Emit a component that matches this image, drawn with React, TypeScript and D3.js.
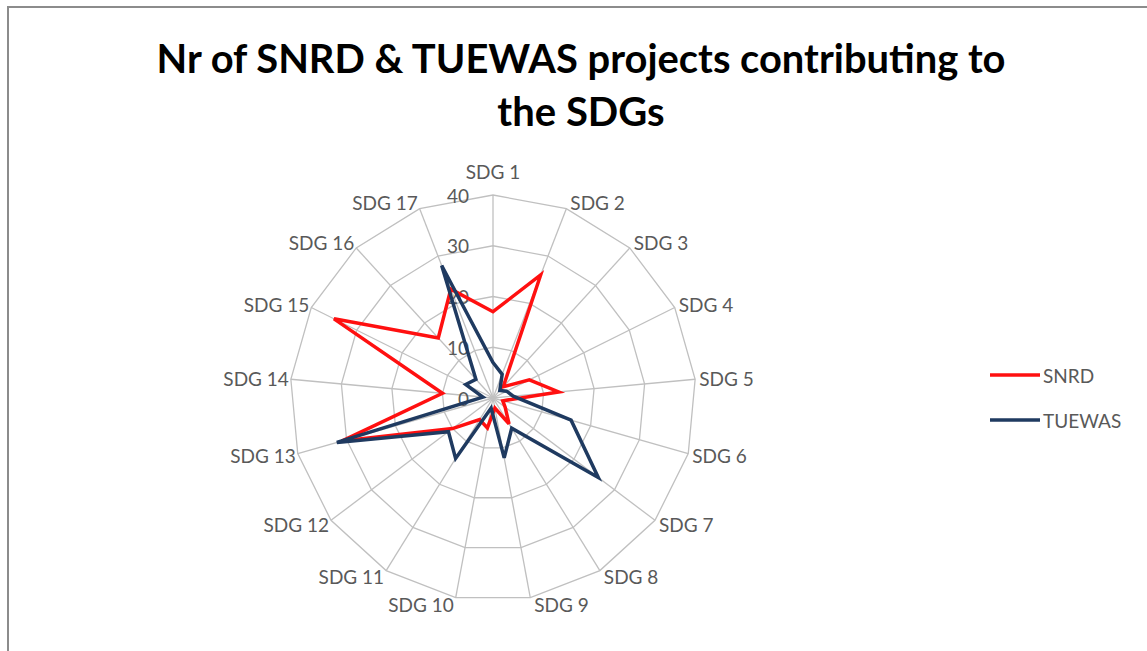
import React from 'react';
import * as d3 from 'd3';

const categories = [
  'SDG 1', 'SDG 2', 'SDG 3', 'SDG 4', 'SDG 5', 'SDG 6', 'SDG 7', 'SDG 8', 'SDG 9',
  'SDG 10', 'SDG 11', 'SDG 12', 'SDG 13', 'SDG 14', 'SDG 15', 'SDG 16', 'SDG 17',
];
const snrd = [17, 26, 3, 8, 13, 2, 3, 6, 2, 6, 5, 10, 31, 10, 35, 16, 23];
const tuewas = [7, 5, 2, 3, 4, 16, 26, 7, 12, 2, 14, 11, 32, 2, 6, 5, 28];
const ticks = [0, 10, 20, 30, 40];

const series = [
  { name: 'SNRD', values: snrd, color: '#ff1010' },
  { name: 'TUEWAS', values: tuewas, color: '#1f3a60' },
];

const W = 1147;
const H = 651;
const cx = 493;
const cy = 398;
const R = 203;
const font = 'Lato, "Liberation Sans", sans-serif';

const App = () => {
  const n = categories.length;
  const rScale = d3.scaleLinear().domain([0, 40]).range([0, R]);
  const angle = (i: number) => (i * 2 * Math.PI) / n;

  const radial = d3.lineRadial<number>()
    .angle((_, i) => angle(i))
    .radius(d => rScale(d))
    .curve(d3.curveLinearClosed);

  return (
    <svg width={W} height={H} style={{ position: 'absolute', left: 0, top: 0, background: '#fff' }}>
      <rect x={8} y={7} width={W} height={H} fill="#fff" stroke="#8c8c8c" strokeWidth={2} />

      <text x={581} y={73} textAnchor="middle" fontFamily={font} fontWeight="bold" fontSize={40}
        fill="#000" textLength={849} lengthAdjust="spacingAndGlyphs">
        Nr of SNRD &amp; TUEWAS projects contributing to
      </text>
      <text x={581} y={126} textAnchor="middle" fontFamily={font} fontWeight="bold" fontSize={40} fill="#000">
        the SDGs
      </text>

      <g transform={`translate(${cx},${cy})`}>
        {ticks.filter(t => t > 0).map(t => (
          <path key={t} d={radial(categories.map(() => t)) || ''} fill="none" stroke="#c0c0c0" strokeWidth={1.3} />
        ))}
        {categories.map((c, i) => {
          const [x, y] = d3.pointRadial(angle(i), R);
          return <line key={c} x1={0} y1={0} x2={x} y2={y} stroke="#c0c0c0" strokeWidth={1.3} />;
        })}

        {ticks.map(t => (
          <text key={t} x={-24} y={-rScale(t)} textAnchor="end" dominantBaseline="central"
            fontFamily={font} fontSize={19} fill="#595959">{t}</text>
        ))}

        {categories.map((c, i) => {
          const a = angle(i);
          const [x, y] = d3.pointRadial(a, R);
          const s = Math.sin(a);
          let anchor = 'middle';
          let lx = x;
          let ly = y - 7 * Math.cos(a);
          if (i === 0) ly = y - 24;
          else if (s > 0.01) { anchor = 'start'; lx = x + 4; }
          else { anchor = 'end'; lx = x - 2; }
          return (
            <text key={c} x={lx} y={ly} textAnchor={anchor} dominantBaseline="central"
              fontFamily={font} fontSize={19} fill="#595959">{c}</text>
          );
        })}

        {series.map(s => (
          <path key={s.name} d={radial(s.values) || ''} fill="none" stroke={s.color}
            strokeWidth={3.5} strokeLinejoin="miter" />
        ))}
      </g>

      {series.map((s, i) => (
        <g key={s.name} transform={`translate(990,${375 + i * 45})`}>
          <line x1={0} x2={50} y1={0} y2={0} stroke={s.color} strokeWidth={3.5} />
          <text x={53} y={0} dominantBaseline="central" fontFamily={font} fontSize={19} fill="#595959">{s.name}</text>
        </g>
      ))}
    </svg>
  );
};

export default App;
